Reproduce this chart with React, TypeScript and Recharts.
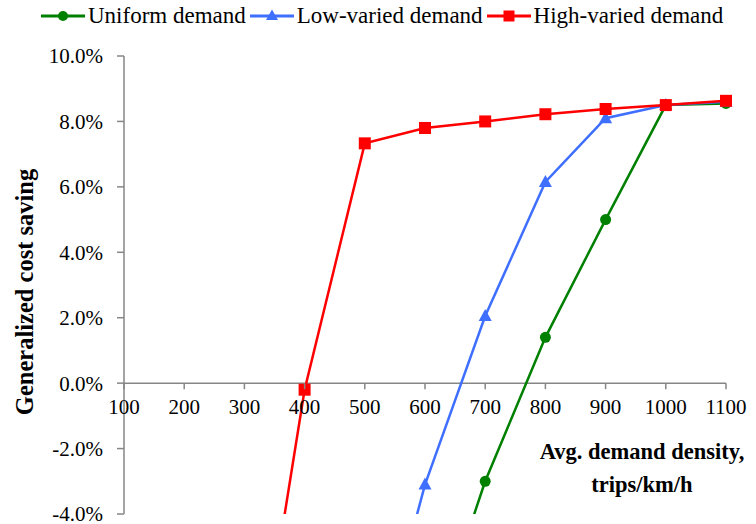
import React from "react";
import { Line, LineChart, ReferenceLine, XAxis, YAxis } from "recharts";

// Avg. demand density (trips/km/h) and generalized cost saving (%) per scenario
const densities = [100, 200, 300, 400, 500, 600, 700, 800, 900, 1000, 1100];
const uniformDemand = [null, null, null, null, null, -8.5, -3.0, 1.4, 5.0, 8.5, 8.55];
const lowVariedDemand = [null, null, null, null, -10.0, -3.1, 2.05, 6.15, 8.1, 8.5, 8.6];
const highVariedDemand = [null, null, -11.7, -0.2, 7.33, 7.8, 8.0, 8.22, 8.38, 8.5, 8.63];
const yTicks = [-4, -2, 0, 2, 4, 6, 8, 10];

const data = densities.map((d, i) => ({
  density: d,
  uniform: uniformDemand[i],
  low: lowVariedDemand[i],
  high: highVariedDemand[i],
}));

const GREEN = "#008000";
const BLUE = "#3f6fff";
const RED = "#ff0000";
const AXIS = "#868686";
const FONT = '"Liberation Serif", "Times New Roman", serif';

const W = 756;
const H = 524;
const X_AXIS_H = 1;
const MARGIN = { top: 56, right: 30, bottom: 10 - X_AXIS_H, left: 0 };
const Y_MIN = -4;
const Y_MAX = 10;
const PLOT_H = H - MARGIN.top - MARGIN.bottom - X_AXIS_H;
// x axis is drawn through the zero line, not at the bottom of the plot
const ZERO_Y = MARGIN.top + (PLOT_H * Y_MAX) / (Y_MAX - Y_MIN);

const XTick = ({ x, payload }: any) => (
  <g>
    <line x1={x} x2={x} y1={ZERO_Y} y2={ZERO_Y + 6} stroke={AXIS} strokeWidth={1.5} />
    <text x={x} y={ZERO_Y + 16} dy="0.71em" textAnchor="middle" fontSize={21} fontFamily={FONT} fill="#000">
      {payload.value}
    </text>
  </g>
);

const circleDot = (p: any) =>
  p.cy == null ? <g key={p.index} /> : <circle key={p.index} cx={p.cx} cy={p.cy} r={5.5} fill={GREEN} />;

const triangleDot = (p: any) =>
  p.cy == null ? (
    <g key={p.index} />
  ) : (
    <path key={p.index} d={`M${p.cx},${p.cy - 7}L${p.cx + 6.5},${p.cy + 5}L${p.cx - 6.5},${p.cy + 5}Z`} fill={BLUE} />
  );

const squareDot = (p: any) =>
  p.cy == null ? <g key={p.index} /> : <rect key={p.index} x={p.cx - 6} y={p.cy - 6} width={12} height={12} fill={RED} />;

const legendItems = [
  { label: "Uniform demand", color: GREEN, marker: <circle cx={22} cy={8} r={5} fill={GREEN} /> },
  { label: "Low-varied demand", color: BLUE, marker: <path d="M22,1.5L28,12L16,12Z" fill={BLUE} /> },
  { label: "High-varied demand", color: RED, marker: <rect x={16.5} y={2.5} width={11} height={11} fill={RED} /> },
];

export default function App() {
  return (
    <div style={{ position: "absolute", left: 0, top: 0, width: W, height: H, fontFamily: FONT }}>
      <div
        style={{
          position: "absolute",
          left: 41,
          top: 4,
          display: "flex",
          alignItems: "center",
          fontSize: 23,
          lineHeight: "23px",
          whiteSpace: "nowrap",
        }}
      >
        {legendItems.map((item) => (
          <div key={item.label} style={{ display: "flex", alignItems: "center", marginRight: 4 }}>
            <svg width={44} height={16} style={{ marginRight: 3 }}>
              <line x1={0} x2={44} y1={8} y2={8} stroke={item.color} strokeWidth={3} />
              {item.marker}
            </svg>
            <span>{item.label}</span>
          </div>
        ))}
      </div>

      <LineChart width={W} height={H} data={data} margin={MARGIN}>
        <XAxis
          dataKey="density"
          type="number"
          domain={[100, 1100]}
          ticks={densities}
          height={X_AXIS_H}
          axisLine={false}
          tickLine={false}
          tick={<XTick />}
          interval={0}
        />
        <YAxis
          width={124}
          domain={[Y_MIN, Y_MAX]}
          ticks={yTicks}
          allowDataOverflow
          interval={0}
          tickFormatter={(v: number) => `${v.toFixed(1)}%`}
          stroke={AXIS}
          strokeWidth={1.5}
          tickSize={7}
          tickMargin={14}
          tick={{ fill: "#000", fontSize: 21, fontFamily: FONT }}
        />
        <ReferenceLine y={0} stroke={AXIS} strokeWidth={1.5} />
        <Line dataKey="uniform" stroke={GREEN} strokeWidth={2.5} dot={circleDot} isAnimationActive={false} />
        <Line dataKey="low" stroke={BLUE} strokeWidth={2.5} dot={triangleDot} isAnimationActive={false} />
        <Line dataKey="high" stroke={RED} strokeWidth={2.5} dot={squareDot} isAnimationActive={false} />
      </LineChart>

      <div
        style={{
          position: "absolute",
          left: 25,
          top: 292,
          transform: "translate(-50%, -50%) rotate(-90deg)",
          fontSize: 24.5,
          fontWeight: "bold",
          whiteSpace: "nowrap",
        }}
      >
        Generalized cost saving
      </div>
      <div
        style={{
          position: "absolute",
          left: 532,
          top: 435,
          width: 220,
          textAlign: "center",
          fontSize: 22.5,
          fontWeight: "bold",
          lineHeight: "33px",
          whiteSpace: "nowrap",
        }}
      >
        Avg. demand density,
        <br />
        trips/km/h
      </div>
    </div>
  );
}
